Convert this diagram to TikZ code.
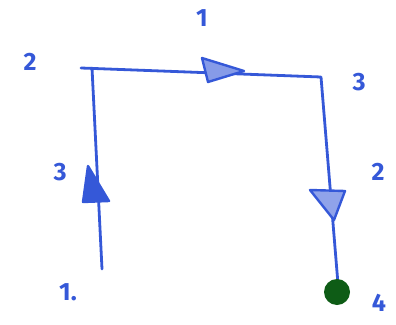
\documentclass[tikz,border=0pt]{standalone}
\usepackage{fontspec}
\setmainfont{Fira Sans}
\definecolor{pen}{HTML}{3558D8}
\definecolor{dot}{HTML}{0E5C16}
\begin{document}
\begin{tikzpicture}[x=1pt,y=-1pt,
  wire/.style={pen,line width=2.8pt,line cap=round,line join=round},
  lbl/.style={pen,font=\fontsize{25}{25}\selectfont\bfseries},
  tri/.style={pen,line width=2.4pt,line join=round}]
\useasboundingbox (0,0) rectangle (396,324);
\coordinate (p1) at (102,269);
\coordinate (p2) at (92,68);
\coordinate (p2a) at (81,68);
\coordinate (p3) at (321,77);
\coordinate (p4) at (338,284);
\draw[wire] (p1) -- (p2);
\draw[wire] (p2a) -- (p3) -- (p4);
% arrowheads
\filldraw[tri] (88,166) -- (83,202) -- (109,201) -- cycle;
\filldraw[tri,fill=pen!60] (244,71) -- (202,58) -- (208,82) -- cycle;
\filldraw[tri,fill=pen!55] (334,220) -- (310,190) -- (345,191) -- cycle;
\node[circle,fill=dot,inner sep=0pt,minimum size=26pt] (end) at (337,292) {};
% labels
\node[lbl] (l1) at (202,18) {1};
\node[lbl] (l2) at (30,62) {2};
\node[lbl] (l3) at (359,82) {3};
\node[lbl] (l3b) at (60,172) {3};
\node[lbl] (l2b) at (378,172) {2};
\node[lbl] (l1b) at (68,292) {1.};
\node[lbl] (l4) at (379,303) {4};
\end{tikzpicture}
\end{document}
